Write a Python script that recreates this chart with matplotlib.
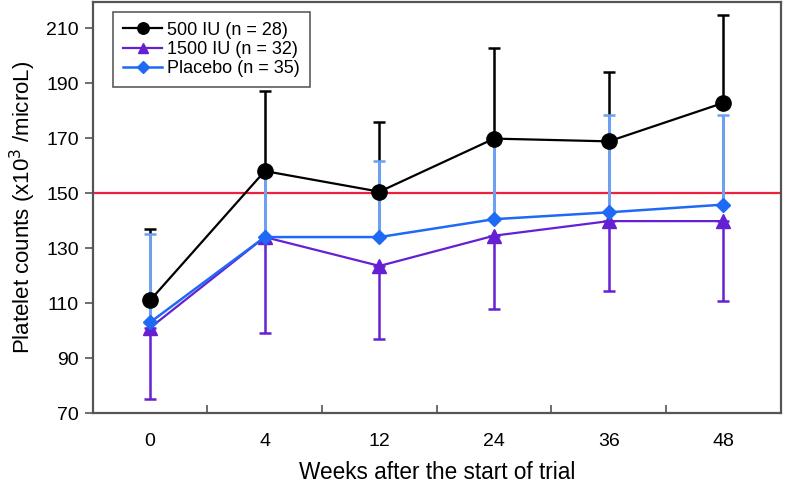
import matplotlib
matplotlib.use("Agg")
import matplotlib.pyplot as plt
import numpy as np

plt.rcParams['font.family'] = ['Liberation Sans', 'DejaVu Sans']

weeks = ["0", "4", "12", "24", "36", "48"]
iu500_mean = [111, 158, 150.5, 169.8, 168.8, 182.8]
iu500_upper = [137, 187, 175.8, 202.6, 194, 214.8]
iu1500_mean = [101, 134, 123.5, 134.5, 139.8, 139.8]
iu1500_lower = [75, 99, 97, 108, 114.5, 110.8]
placebo_mean = [103, 134, 134, 140.5, 143, 145.8]
placebo_upper = [135, 157, 161.8, 169.5, 178.5, 178.5]
threshold = 150

x = np.arange(len(weeks))

fig = plt.figure(figsize=(8, 4.82), dpi=100)
ax = fig.add_axes([0.116, 0.143, 0.86, 0.853])

black = '#000000'
purple = '#6420d2'
blue = '#1f6af5'
blue_err = '#6f9ff0'

m500 = np.array(iu500_mean); u500 = np.array(iu500_upper)
m1500 = np.array(iu1500_mean); l1500 = np.array(iu1500_lower)
mpl = np.array(placebo_mean); upl = np.array(placebo_upper)

ax.axhline(threshold, color='#f0203c', lw=1.6, zorder=2)

# error bars
ax.errorbar(x, mpl, yerr=[np.zeros_like(mpl), upl - mpl], fmt='none',
            ecolor=blue_err, elinewidth=2.2, capsize=4, capthick=1.8, zorder=3)
ax.errorbar(x, m500, yerr=[np.zeros_like(m500), u500 - m500], fmt='none',
            ecolor=black, elinewidth=1.8, capsize=4, capthick=1.8, zorder=2.5)
ax.errorbar(x, m1500, yerr=[m1500 - l1500, np.zeros_like(m1500)], fmt='none',
            ecolor=purple, elinewidth=1.8, capsize=4, capthick=1.8, zorder=3)

ax.plot(x, m500, '-o', color=black, lw=1.6, ms=11, label='500 IU (n = 28)', zorder=5)
ax.plot(x, m1500, '-^', color=purple, lw=1.6, ms=10, label='1500 IU (n = 32)', zorder=4)
ax.plot(x, mpl, '-D', color=blue, lw=1.8, ms=7.5, label='Placebo (n = 35)', zorder=4.5)

ax.set_xlim(-0.5, 5.5)
ax.set_ylim(70, 219.5)
ax.set_yticks(np.arange(70, 211, 20))
ax.set_xticks(x)
ax.set_xticklabels(weeks)
ax.set_xticks(x[:-1] + 0.5, minor=True)
ax.tick_params(axis='x', which='major', length=0, pad=14, labelsize=14)
ax.tick_params(axis='x', which='minor', direction='in', length=6, width=1.2, color='#555555')
ax.tick_params(axis='y', direction='out', length=6, width=1.2, color='#555555', labelsize=14, pad=4)

for s in ax.spines.values():
    s.set_color('#555555')
    s.set_linewidth(1.6)

ax.set_xlabel('Weeks after the start of trial', fontsize=16.3, labelpad=8)
ax.set_ylabel('Platelet counts (x10$^3$ /microL)', fontsize=16, labelpad=6)

leg = ax.legend(loc='upper left', bbox_to_anchor=(0.029, 0.976), borderaxespad=0,
                fontsize=13, frameon=True, fancybox=False, edgecolor='#333333',
                handlelength=2.2, borderpad=0.55, labelspacing=0.12, handletextpad=0.25,
                markerscale=0.75)
leg.get_frame().set_linewidth(1.2)

fig.savefig('out.png', dpi=100)
